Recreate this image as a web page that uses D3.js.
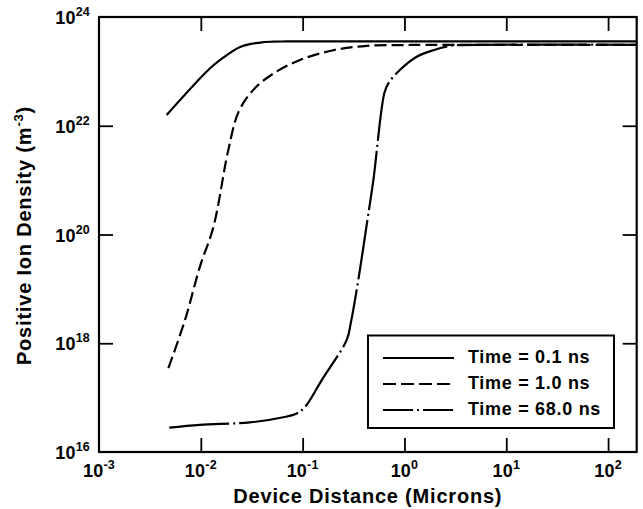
<!DOCTYPE html>
<html><head><meta charset="utf-8">
<script src="https://cdn.jsdelivr.net/npm/d3@7/dist/d3.min.js"></script>
<style>
body{margin:0;background:#fff;}
svg{display:block;}
text{font-family:"Liberation Sans",Arial,Helvetica,sans-serif;font-weight:bold;fill:#000;}
</style></head><body>
<svg id="c" width="643" height="509"></svg>
<script>
// ---- data ----
const xTickExps = [-3, -2, -1, 0, 1, 2];
const yTickExps = [16, 18, 20, 22, 24];
const seriesNames = ["Time = 0.1 ns", "Time = 1.0 ns", "Time = 68.0 ns"];

const x01 = [4.62e-3, 1.19e-2, 1.55e-2, 2.43e-2, 3.82e-2, 5.1e-2, 7.0e-2, 190];
const y01 = [1.58e22, 1.07e23, 1.62e23, 2.82e23, 3.39e23, 3.52e23, 3.55e23, 3.55e23];

const x10 = [4.8e-3, 7.0e-3, 9.8e-3, 1.33e-2, 1.86e-2, 2.35e-2, 3.28e-2, 5.15e-2, 9.42e-2, 0.2, 0.427, 1.0, 1.5, 190];
const y10 = [3.47e17, 2.69e18, 2.57e19, 1.38e20, 3.55e21, 1.8e22, 4.57e22, 9.1e22, 1.62e23, 2.45e23, 2.95e23, 3.05e23, 3.07e23, 3.08e23];

const x68 = [4.9e-3, 9.8e-3, 3.04e-2, 6.46e-2, 8.75e-2, 0.106, 0.154, 0.271, 0.297, 0.352, 0.433, 0.495, 0.635, 0.695, 0.906, 1.32, 1.92, 2.81, 3.5, 190];
const y68 = [2.8e16, 3.16e16, 3.5e16, 4.35e16, 5.1e16, 6.8e16, 2.1e17, 1.15e18, 2.35e18, 1.45e19, 1.86e20, 1.0e21, 4.0e22, 6.0e22, 1.07e23, 1.86e23, 2.45e23, 2.95e23, 3.05e23, 3.08e23];

// ---- layout ----
const L = 99, R = 636.7, T = 17, B = 452;
const svg = d3.select("#c");
const x = d3.scaleLog().domain([1e-3, 191]).range([L, R]);
const y = d3.scaleLog().domain([1e16, 1e24]).range([B, T]);

const dashes = ["none", "12,5", "60,4,2,4"];
const legendDashes = ["none", "13,5", "30,4,2,4"];
const series = [
  {xs: x01, ys: y01}, {xs: x10, ys: y10}, {xs: x68, ys: y68}
];

const line = d3.line().x(d => x(d[0])).y(d => y(d[1])).curve(d3.curveCatmullRom.alpha(0.5));
series.forEach((s, i) => {
  svg.append("path")
    .attr("d", line(s.xs.map((v, k) => [v, s.ys[k]])))
    .attr("fill", "none").attr("stroke", "#000").attr("stroke-width", 2.2)
    .attr("stroke-dasharray", dashes[i]);
});

// frame
svg.append("rect").attr("x", L).attr("y", T).attr("width", R - L).attr("height", B - T)
  .attr("fill", "none").attr("stroke", "#000").attr("stroke-width", 2.2);

// ticks via axes (inward)
const tl = 14;
const xTickVals = xTickExps.slice(1).map(e => Math.pow(10, e));
const xAxB = d3.axisBottom(x).tickValues(xTickVals).tickSize(-tl).tickFormat("");
const xAxT = d3.axisTop(x).tickValues(xTickVals).tickSize(-tl).tickFormat("");
const yTickVals = yTickExps.slice(1, -1).map(e => Math.pow(10, e));
const yAxL = d3.axisLeft(y).tickValues(yTickVals).tickSize(-tl).tickFormat("");
const yAxR = d3.axisRight(y).tickValues(yTickVals).tickSize(-tl).tickFormat("");
[[xAxB, `translate(0,${B})`], [xAxT, `translate(0,${T})`], [yAxL, `translate(${L},0)`], [yAxR, `translate(${R},0)`]]
  .forEach(([ax, tr]) => {
    const g = svg.append("g").attr("transform", tr).call(ax);
    g.select(".domain").remove();
    g.selectAll("line").attr("stroke", "#000").attr("stroke-width", 1.8);
  });

// x tick labels
xTickExps.forEach(e => {
  const t = svg.append("text").attr("x", x(Math.pow(10, e))).attr("y", 477)
    .attr("text-anchor", "middle").style("font-size", "18px").style("letter-spacing", "0.2px");
  t.append("tspan").text("10");
  t.append("tspan").attr("dy", -8).style("font-size", "12.5px").text(String(e));
});
// y tick labels
yTickExps.forEach(e => {
  const t = svg.append("text").attr("x", 90).attr("y", y(Math.pow(10, e)) + 7)
    .attr("text-anchor", "end").style("font-size", "18px").style("letter-spacing", "0.2px");
  t.append("tspan").text("10");
  t.append("tspan").attr("dy", -8).style("font-size", "12.5px").text(String(e));
});

// axis titles
svg.append("text").attr("x", (L + R) / 2).attr("y", 503).attr("text-anchor", "middle")
  .style("font-size", "20px").style("letter-spacing", "0.8px").text("Device Distance (Microns)");
const yt = svg.append("text").attr("transform", "translate(31,235.5) rotate(-90)")
  .attr("text-anchor", "middle").style("font-size", "20px").style("letter-spacing", "0.8px");
yt.append("tspan").text("Positive Ion Density (m");
yt.append("tspan").attr("dy", -8).style("font-size", "13px").text("-3");
yt.append("tspan").attr("dy", 8).text(")");

// legend
svg.append("rect").attr("x", 368).attr("y", 335.5).attr("width", 246).attr("height", 92.5)
  .attr("fill", "#fff").attr("stroke", "#000").attr("stroke-width", 2);
seriesNames.forEach((n, i) => {
  const yy = 358 + i * 26;
  svg.append("line").attr("x1", 383).attr("x2", 454).attr("y1", yy).attr("y2", yy)
    .attr("stroke", "#000").attr("stroke-width", 2.2).attr("stroke-dasharray", legendDashes[i]);
  svg.append("text").attr("x", 468).attr("y", yy + 5).style("font-size", "18px")
    .style("letter-spacing", "0.7px").text(n);
});
</script>
</body></html>
